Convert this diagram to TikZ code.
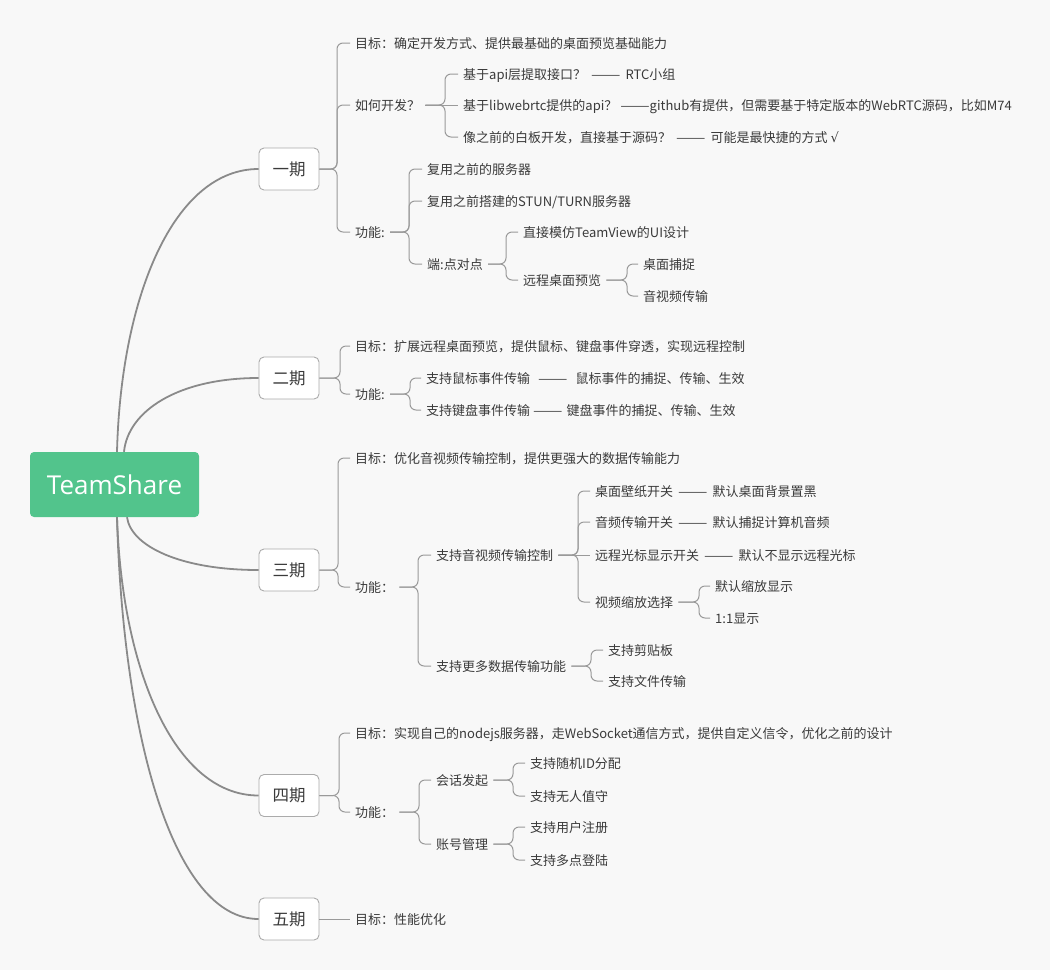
\documentclass[tikz,border=0pt]{standalone}
\usepackage{graphicx}
\usepackage{fontspec}
\setmainfont{Noto Sans CJK SC}
\newfontfamily\rootfont{Open Sans}
\newfontfamily\symfont{DejaVu Sans}
\definecolor{bgc}{HTML}{F8F8F8}
\definecolor{txtc}{HTML}{3A3A3A}
\definecolor{linec}{HTML}{9A9A9A}
\definecolor{rootline}{HTML}{8A8A8A}
\definecolor{boxc}{HTML}{ABABAB}
\definecolor{greenc}{HTML}{52C48C}
\tikzset{
  t/.style={anchor=west, xshift=-5pt, inner xsep=5pt, inner ysep=2pt, text height=10pt, text depth=0pt, text=txtc, font=\fontsize{13pt}{15pt}\selectfont},
  lvl/.style={draw=boxc, line width=0.9pt, fill=white, rounded corners=5pt, minimum width=60pt, minimum height=42pt, inner sep=0pt, text=txtc, font=\fontsize{16.5pt}{18pt}\selectfont},
  rootbox/.style={fill=greenc, rounded corners=4pt, minimum width=169pt, minimum height=65pt, inner sep=0pt, text=white, font=\rootfont\fontsize{26pt}{30pt}\selectfont},
  br/.style={draw=linec, line width=1pt, rounded corners=6pt},
  rc/.style={draw=rootline, line width=1.8pt},
}
\newcommand\brc[3]{\draw[br] (#1.east) -- (#2 |- #1.east) |- (#3.west);}
\newcommand\brs[2]{\draw[br] (#1.east) -- (#2.west);}
\newcommand\emd{\scalebox{1.35}[1]{——}}
\newcommand\dd{\hspace{5pt}\emd\hspace{5pt}}
\begin{document}
\begin{tikzpicture}[x=1pt,y=-1pt]
\fill[bgc] (0,0) rectangle (1050,970);
\useasboundingbox (0,0) rectangle (1050,970);
% root and level one
\node[rootbox] (root) at (114.5,484.5) {TeamShare};
\node[lvl] (p1) at (289,169) {一期};
\node[lvl] (p2) at (289,378) {二期};
\node[lvl] (p3) at (289,570) {三期};
\node[lvl] (p4) at (289,795.5) {四期};
\node[lvl] (p5) at (289,919) {五期};
\draw[rc] ([xshift=2.5pt]root.north) .. controls (121,296) and (174,169) .. (p1.west);
\draw[rc] ([xshift=9.5pt]root.north) .. controls (128,411) and (178,378) .. (p2.west);
\draw[rc] ([xshift=12.5pt]root.south) .. controls (131,546) and (180,570) .. (p3.west);
\draw[rc] ([xshift=2.5pt]root.south) .. controls (122,669) and (174,795.5) .. (p4.west);
\draw[rc] ([xshift=2.5pt]root.south) .. controls (123,738) and (174,919) .. (p5.west);
% spines
\coordinate (s1) at (337,0);
\coordinate (s12) at (445,0);
\coordinate (s13) at (409,0);
\coordinate (s133) at (506,0);
\coordinate (s1332) at (627,0);
\coordinate (s2) at (340,0);
\coordinate (s22) at (410,0);
\coordinate (s3) at (338,0);
\coordinate (s32) at (418,0);
\coordinate (s321) at (578,0);
\coordinate (s3214) at (699,0);
\coordinate (s322) at (591,0);
\coordinate (s4) at (339,0);
\coordinate (s42) at (419,0);
\coordinate (s421) at (513,0);
\coordinate (s422) at (513,0);
% phase one
\node[t] (a1) at (355,43) {目标：确定开发方式、提供最基础的桌面预览基础能力};
\node[t] (a2) at (355,105) {如何开发？};
\node[t] (a3) at (355,232) {功能:};
\node[t] (a21) at (463,74) {基于api层提取接口？\dd RTC小组};
\node[t] (a22) at (463,105) {基于libwebrtc提供的api？ \emd github有提供，但需要基于特定版本的WebRTC源码，比如M74};
\node[t] (a23) at (463,137) {像之前的白板开发，直接基于源码？\dd 可能是最快捷的方式 {\symfont √}};
\node[t] (a31) at (427,169) {复用之前的服务器};
\node[t] (a32) at (427,201) {复用之前搭建的STUN/TURN服务器};
\node[t] (a33) at (427,264) {端:点对点};
\node[t] (a331) at (523,232) {直接模仿TeamView的UI设计};
\node[t] (a332) at (523,280) {远程桌面预览};
\node[t] (a3321) at (643,264) {桌面捕捉};
\node[t] (a3322) at (643,296) {音视频传输};
\brc{p1}{s1}{a1} \brc{p1}{s1}{a2} \brc{p1}{s1}{a3}
\brc{a2}{s12}{a21} \brs{a2}{a22} \brc{a2}{s12}{a23}
\brc{a3}{s13}{a31} \brc{a3}{s13}{a32} \brc{a3}{s13}{a33}
\brc{a33}{s133}{a331} \brc{a33}{s133}{a332}
\brc{a332}{s1332}{a3321} \brc{a332}{s1332}{a3322}
% phase two
\node[t] (b1) at (355,346) {目标：扩展远程桌面预览，提供鼠标、键盘事件穿透，实现远程控制};
\node[t] (b2) at (355,394) {功能:};
\node[t] (b21) at (426,378) {支持鼠标事件传输\hspace{8pt}\emd\hspace{8pt}鼠标事件的捕捉、传输、生效};
\node[t] (b22) at (426,410) {支持键盘事件传输\hspace{3pt}\emd\hspace{4pt}键盘事件的捕捉、传输、生效};
\brc{p2}{s2}{b1} \brc{p2}{s2}{b2}
\brc{b2}{s22}{b21} \brc{b2}{s22}{b22}
% phase three
\node[t] (c1) at (355,458) {目标：优化音视频传输控制，提供更强大的数据传输能力};
\node[t] (c2) at (355,587) {功能：};
\node[t] (c21) at (436,555) {支持音视频传输控制};
\node[t] (c22) at (436,666) {支持更多数据传输功能};
\node[t] (c211) at (595,491) {桌面壁纸开关\dd 默认桌面背景置黑};
\node[t] (c212) at (595,522) {音频传输开关\dd 默认捕捉计算机音频};
\node[t] (c213) at (595,555) {远程光标显示开关\dd 默认不显示远程光标};
\node[t] (c214) at (595,602) {视频缩放选择};
\node[t] (c2141) at (715,586) {默认缩放显示};
\node[t] (c2142) at (715,618) {1:1显示};
\node[t] (c221) at (608,650) {支持剪贴板};
\node[t] (c222) at (608,681) {支持文件传输};
\brc{p3}{s3}{c1} \brc{p3}{s3}{c2}
\brc{c2}{s32}{c21} \brc{c2}{s32}{c22}
\brc{c21}{s321}{c211} \brc{c21}{s321}{c212} \brs{c21}{c213} \brc{c21}{s321}{c214}
\brc{c214}{s3214}{c2141} \brc{c214}{s3214}{c2142}
\brc{c22}{s322}{c221} \brc{c22}{s322}{c222}
% phase four
\node[t] (d1) at (355,733) {目标：实现自己的nodejs服务器，走WebSocket通信方式，提供自定义信令，优化之前的设计};
\node[t] (d2) at (355,812) {功能：};
\node[t] (d21) at (436,780) {会话发起};
\node[t] (d22) at (436,844) {账号管理};
\node[t] (d211) at (530,763) {支持随机ID分配};
\node[t] (d212) at (530,796) {支持无人值守};
\node[t] (d221) at (530,827) {支持用户注册};
\node[t] (d222) at (530,860) {支持多点登陆};
\brc{p4}{s4}{d1} \brc{p4}{s4}{d2}
\brc{d2}{s42}{d21} \brc{d2}{s42}{d22}
\brc{d21}{s421}{d211} \brc{d21}{s421}{d212}
\brc{d22}{s422}{d221} \brc{d22}{s422}{d222}
% phase five
\node[t] (e1) at (355,919) {目标：性能优化};
\brs{p5}{e1}
\end{tikzpicture}
\end{document}
